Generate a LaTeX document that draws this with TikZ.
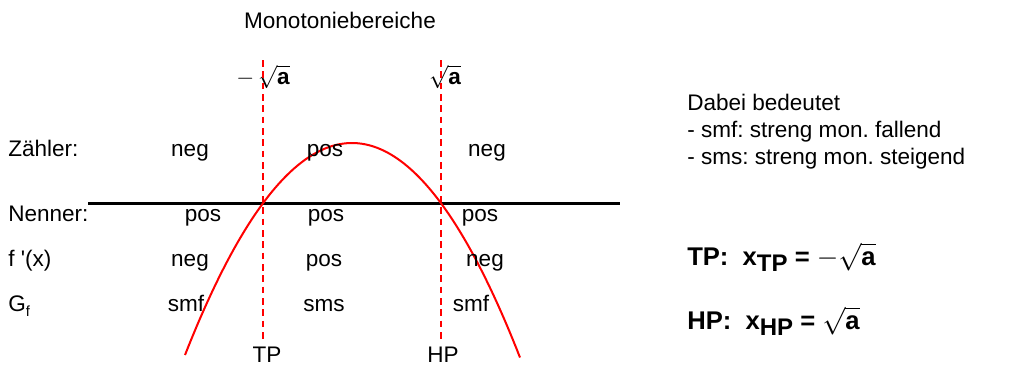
\documentclass[tikz,border=0pt]{standalone}
\usepackage{fontspec}
\setmainfont{Liberation Sans}[Ligatures=TeXOff]
\frenchspacing
\begin{document}
\begin{tikzpicture}[x=0.75pt,y=-0.75pt,
  txt/.style={inner sep=0pt, font=\fontsize{16.9}{20}\selectfont, anchor=base},
  lbl/.style={txt, anchor=base west},
  bld/.style={txt, anchor=base west, font=\fontsize{19.2}{23}\selectfont\bfseries},
  vdash/.style={draw=red, line width=0.8pt, dash pattern=on 5pt off 3.5pt},
  axisline/.style={draw=black, line width=2.25pt},
  curve/.style={draw=red, line width=1.5pt}]
\useasboundingbox (0,0) rectangle (1021,365);
% title
\node[txt] (title) at (340,28) {Monotoniebereiche};
\node[txt] (sqm) at (263,84) {$-\,\sqrt{\textbf{a}}$};
\node[txt] (sqp) at (445,84) {$\sqrt{\textbf{a}}$};
% dashed lines
\coordinate (d1t) at (263,60); \coordinate (d1b) at (263,343);
\coordinate (d2t) at (441,60); \coordinate (d2b) at (441,343);
\draw[vdash] (d1t) -- (d1b);
\draw[vdash] (d2t) -- (d2b);
% axis
\coordinate (al) at (88,203); \coordinate (ar) at (620,203);
\draw[axisline] (al) -- (ar);
% parabola
\draw[curve] plot[domain=185:520, samples=90] (\x, {143+76*((\x-352)/100)^2});
% rows
\node[lbl] (zl) at (8,156) {Zähler:};
\node[txt] (z1) at (190,156) {neg};
\node[txt] (z2) at (325,156) {pos};
\node[txt] (z3) at (487,156) {neg};
\node[lbl] (nl) at (8,221) {Nenner:};
\node[txt] (n1) at (203,221) {pos};
\node[txt] (n2) at (326,221) {pos};
\node[txt] (n3) at (480,221) {pos};
\node[lbl] (fl) at (8,266) {f '(x)};
\node[txt] (f1) at (190,266) {neg};
\node[txt] (f2) at (324,266) {pos};
\node[txt] (f3) at (485,266) {neg};
\node[lbl] (gl) at (8,311) {G\raisebox{-0.45ex}{\fontsize{11}{12}\selectfont f}};
\node[txt] (g1) at (186,311) {smf};
\node[txt] (g2) at (324,311) {sms};
\node[txt] (g3) at (471,311) {smf};
\node[txt] (tp) at (267,362) {TP};
\node[txt] (hp) at (443,362) {HP};
% right text
\node[lbl] (r1) at (687,110) {Dabei bedeutet};
\node[lbl] (r2) at (687,137) {- smf: streng mon. fallend};
\node[lbl] (r3) at (687,164) {- sms: streng mon. steigend};
\node[bld] (tpx) at (687,265) {TP:\ \ x\raisebox{-0.5ex}{\fontsize{18}{20}\selectfont TP} = $-\sqrt{\textbf{a}}$};
\node[bld] (hpx) at (687,329) {HP:\ \ x\raisebox{-0.5ex}{\fontsize{18}{20}\selectfont HP} = $\sqrt{\textbf{a}}$};
\end{tikzpicture}
\end{document}
